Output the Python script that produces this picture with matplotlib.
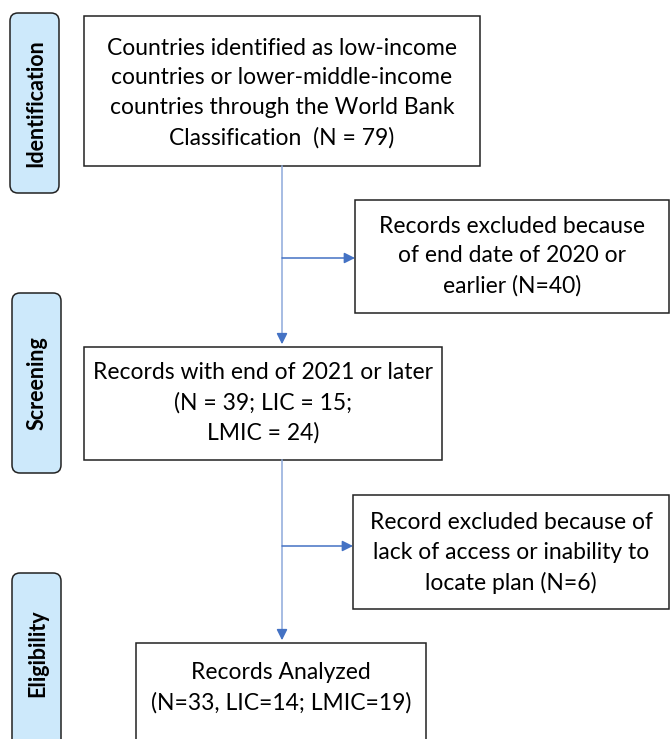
import matplotlib.pyplot as plt
from matplotlib.patches import Rectangle, FancyBboxPatch

# stage labels on the left
stages = ["Identification", "Screening", "Eligibility"]
stage_boxes = [(10, 13, 49, 180), (12, 293, 49, 180), (12, 573, 49, 190)]
stage_text_y = [103, 383, 653]

# flow boxes: text and (x, y, w, h) in pixels, y going down
box_texts = [
    "Countries identified as low-income\ncountries or lower-middle-income\ncountries through the World Bank\nClassification  (N = 79)",
    "Records excluded because\nof end date of 2020 or\nearlier (N=40)",
    "Records with end of 2021 or later\n(N = 39; LIC = 15;\nLMIC = 24)",
    "Record excluded because of\nlack of access or inability to\nlocate plan (N=6)",
    "Records Analyzed\n(N=33, LIC=14; LMIC=19)",
]
box_rects = [
    (84, 16, 396, 150),
    (355, 200, 314, 113),
    (84, 347, 358, 113),
    (353, 495, 316, 114),
    (136, 643, 290, 120),
]
text_centers = [(282, 93), (512, 256), (263, 403), (511, 553), (281, 688)]

ARROW = "#4472c4"
VLINE = "#8eaadb"

fig = plt.figure(figsize=(6.7, 7.39), dpi=100)
ax = fig.add_axes([0, 0, 1, 1])
ax.set_xlim(0, 670)
ax.set_ylim(739, 0)
ax.axis("off")

for name, (x, y, w, h), ty in zip(stages, stage_boxes, stage_text_y):
    ax.add_patch(FancyBboxPatch((x, y), w, h, boxstyle="round,pad=0,rounding_size=8",
                                facecolor="#cde9fb", edgecolor="#222222", lw=1.1))
    ax.text(x + w / 2 + 1, ty, name, rotation=90, ha="center", va="center",
            fontsize=15.5, fontweight="bold", family="Lato", color="black")

for txt, (x, y, w, h), (cx, cy) in zip(box_texts, box_rects, text_centers):
    ax.add_patch(Rectangle((x, y), w, h, facecolor="white", edgecolor="#222222", lw=1.1))
    ax.text(cx, cy, txt, ha="center", va="center", fontsize=16.5, family="Lato",
            linespacing=1.5, color="black")

# main vertical flow
def down_arrow(x, y0, y1):
    ax.plot([x, x], [y0, y1 - 8], color=VLINE, lw=1.1)
    ax.annotate("", xy=(x, y1), xytext=(x, y1 - 10),
                arrowprops=dict(arrowstyle="-|>", color=ARROW, lw=1.1, mutation_scale=16))

def side_arrow(y, x0, x1):
    ax.annotate("", xy=(x1, y), xytext=(x0, y),
                arrowprops=dict(arrowstyle="-|>", color=ARROW, lw=1.1, mutation_scale=16,
                                shrinkA=0, shrinkB=0))

down_arrow(282, 166, 347)
side_arrow(258, 282, 355)
down_arrow(282, 460, 643)
side_arrow(546, 282, 353)

fig.savefig("out.png", dpi=100)
